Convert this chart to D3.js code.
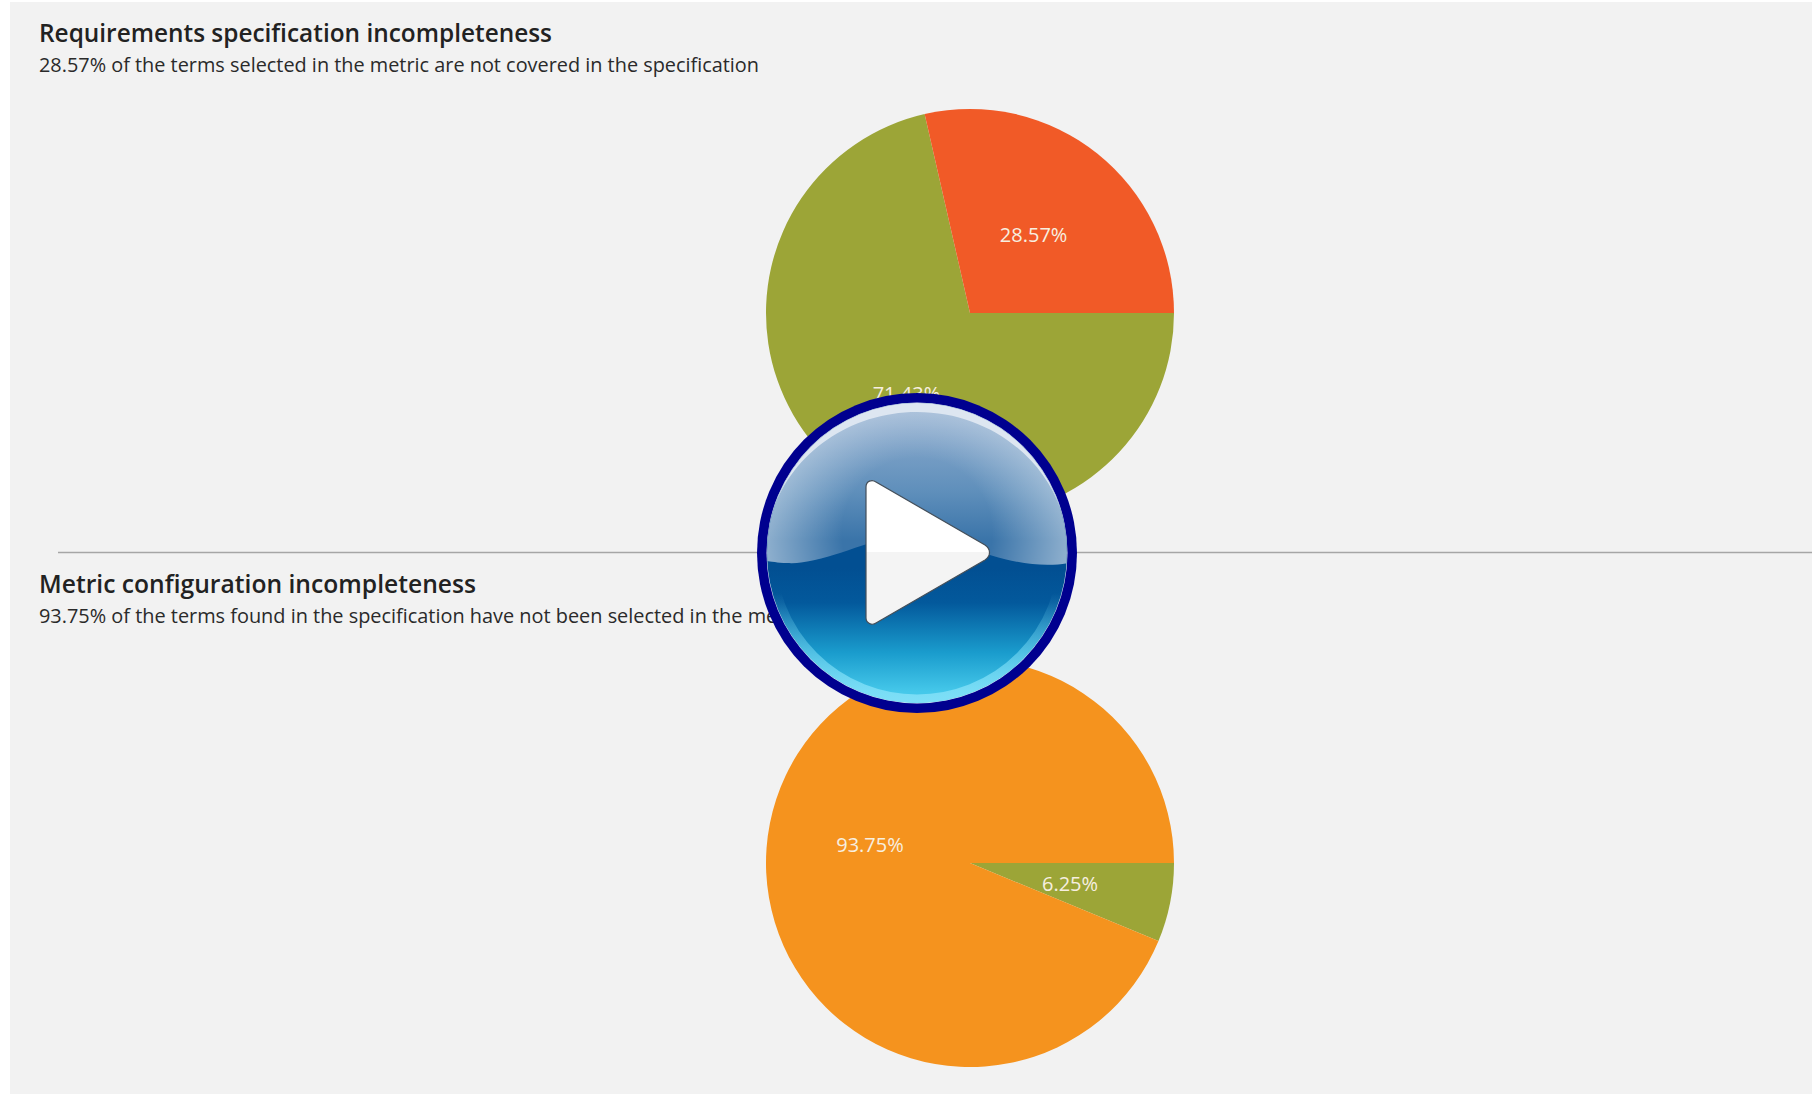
<!DOCTYPE html>
<html>
<head>
<meta charset="utf-8">
<script src="https://cdn.jsdelivr.net/npm/d3@7"></script>
<style>
html,body{margin:0;padding:0;background:#fff;overflow:hidden}
svg{display:block}
text{font-family:"Open Sans","Noto Sans",sans-serif}
</style>
</head>
<body>
<svg id="c" width="1812" height="1094"></svg>
<script>
const titles = ["Requirements specification incompleteness", "Metric configuration incompleteness"];
const subtitles = [
  "28.57% of the terms selected in the metric are not covered in the specification",
  "93.75% of the terms found in the specification have not been selected in the metric"
];
const pieOneValues = [71.43, 28.57];
const pieOneColors = ["#9ca537", "#f15a27"];
const pieTwoValues = [6.25, 93.75];
const pieTwoColors = ["#9ca537", "#f5931e"];

const W = 1812, H = 1094;
const svg = d3.select("#c");
const defs = svg.append("defs");

function grad(id, stops, x1, y1, x2, y2) {
  const g = defs.append("linearGradient").attr("id", id)
    .attr("x1", x1).attr("y1", y1).attr("x2", x2).attr("y2", y2);
  stops.forEach(s => g.append("stop").attr("offset", s[0]).attr("stop-color", s[1]).attr("stop-opacity", s[2] === undefined ? 1 : s[2]));
}
grad("btnTop", [[0.06, "#8fadcf"], [0.55, "#5f8fbb"], [0.85, "#3a74a9"]], 0, 0, 0, 1);
grad("btnBottom", [[0.55, "#024f92"], [0.665, "#03599c"], [0.83, "#1a9ccd"], [0.96, "#45c8ea"]], 0, 0, 0, 1);
grad("btnRing", [[0, "#7fdff7", 0], [1, "#7fdff7", 1]], 0, 0, 0, 1);
defs.select("#btnRing").attr("gradientUnits", "userSpaceOnUse").attr("y1", 40).attr("y2", 150);
const side = defs.append("radialGradient").attr("id", "btnSheen")
  .attr("gradientUnits", "userSpaceOnUse").attr("cx", 0).attr("cy", -20).attr("r", 150);
side.append("stop").attr("offset", 0.5).attr("stop-color", "#fff").attr("stop-opacity", 0);
side.append("stop").attr("offset", 1).attr("stop-color", "#fff").attr("stop-opacity", 0.42);
grad("tri", [[0.5, "#ffffff"], [0.5, "#f4f4f4"]], 0, 0, 0, 1);

svg.append("rect").attr("width", W).attr("height", H).attr("fill", "#fff");
svg.append("rect").attr("x", 10).attr("y", 2).attr("width", W - 10).attr("height", H - 2).attr("fill", "#f2f2f2");

const panels = [
  { values: pieOneValues, colors: pieOneColors, cy: 313, titleY: 42, subY: 72, titleLen: 513, subLen: 720 },
  { values: pieTwoValues, colors: pieTwoColors, cy: 863, titleY: 593, subY: 623, titleLen: 437, subLen: 768 }
];
const R = 204, CX = 970;
const pie = d3.pie().sort(null).value(d => d)
  .startAngle(Math.PI / 2).endAngle(Math.PI / 2 + 2 * Math.PI);
const arc = d3.arc().innerRadius(0).outerRadius(R);
const fmt = d3.format(".2f");

svg.append("line").attr("x1", 58).attr("x2", W).attr("y1", 552.5).attr("y2", 552.5)
  .attr("stroke", "#a6a6a6").attr("stroke-width", 1.5);

panels.forEach((p, i) => {
  svg.append("text").text(titles[i]).attr("x", 39).attr("y", p.titleY)
    .attr("font-size", 25).attr("font-weight", 600).attr("fill", "#222")
    .attr("textLength", p.titleLen).attr("lengthAdjust", "spacingAndGlyphs");
  svg.append("text").text(subtitles[i]).attr("x", 39).attr("y", p.subY)
    .attr("font-size", 20).attr("fill", "#2a2a2a")
    .attr("textLength", p.subLen).attr("lengthAdjust", "spacingAndGlyphs");
  const g = svg.append("g").attr("transform", `translate(${CX},${p.cy})`);
  const arcs = pie(p.values);
  g.selectAll("path").data(arcs).join("path")
    .attr("d", arc).attr("fill", (d, j) => p.colors[j]);
  g.selectAll("text").data(arcs).join("text")
    .attr("transform", d => `translate(${arc.centroid(d)})`)
    .attr("text-anchor", "middle").attr("dy", "0.42em")
    .attr("font-size", 20).attr("fill", "#f7efe0")
    .text(d => fmt(d.value) + "%");
});

// play button overlay
const wave = "M-151,-151H151V10C125,15 90,10 45,-8C20,-18 0,-22 -20,-18C-60,-8 -100,12 -130,10C-140,10 -148,8 -151,8Z";
const b = svg.append("g").attr("transform", "translate(917,553)");
b.append("circle").attr("r", 160).attr("fill", "#00008f");
b.append("circle").attr("r", 150.5).attr("fill", "#dfe8f2");
b.append("clipPath").attr("id", "inner").append("circle").attr("r", 150);
const ci = b.append("g").attr("clip-path", "url(#inner)");
ci.append("rect").attr("x", -151).attr("y", -151).attr("width", 302).attr("height", 302).attr("fill", "url(#btnBottom)");
ci.append("path").attr("d", wave).attr("fill", "url(#btnTop)");
ci.append("path").attr("d", wave).attr("fill", "url(#btnSheen)");
ci.append("circle").attr("r", 146).attr("fill", "none").attr("stroke", "url(#btnRing)").attr("stroke-width", 9);
ci.append("path").attr("d", "M-151,-151H151V0C151,-78 83,-141 0,-141C-83,-141 -151,-78 -151,0Z")
  .attr("fill", "#dde6f1");
b.append("path")
  .attr("d", "M-51,-66C-51,-72 -45,-74 -41,-71L68,-8C74,-4 74,3 68,7L-41,70C-45,73 -51,70 -51,65Z")
  .attr("fill", "url(#tri)").attr("stroke", "#444f5a").attr("stroke-width", 1.2);
</script>
</body>
</html>
